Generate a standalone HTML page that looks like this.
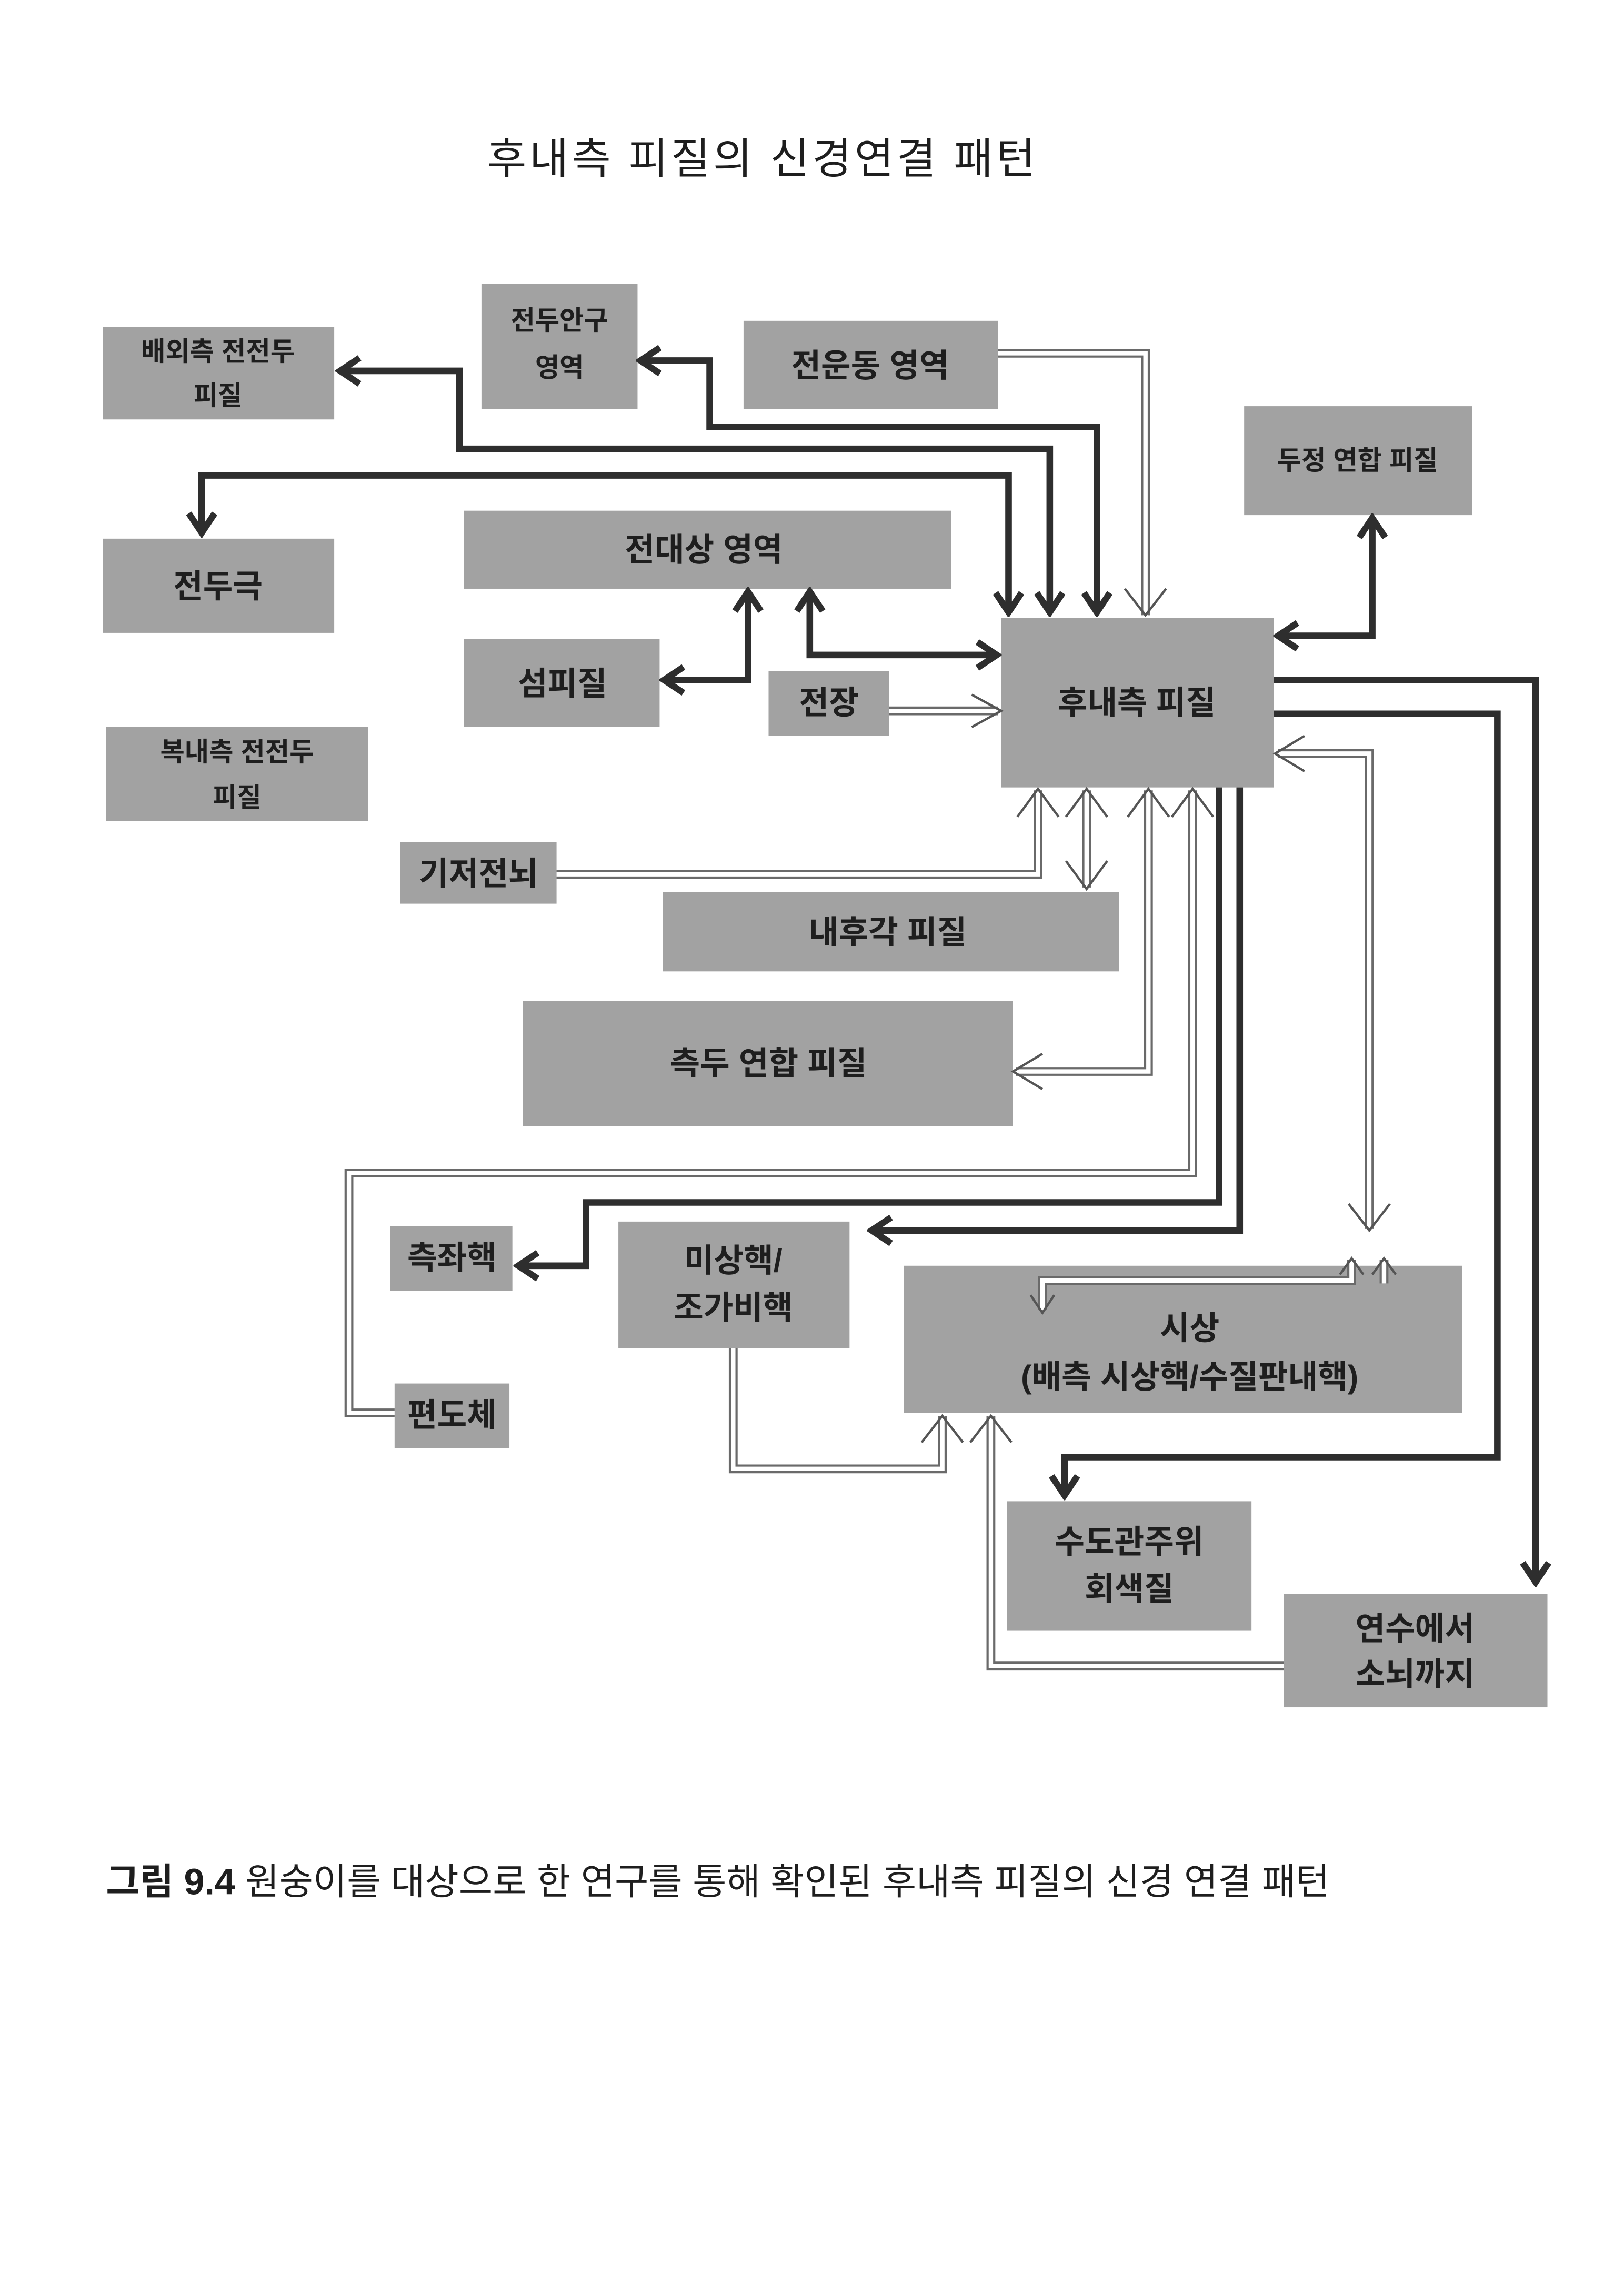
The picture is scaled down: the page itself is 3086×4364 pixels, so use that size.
<!DOCTYPE html>
<html><head><meta charset="utf-8">
<style>
html,body{margin:0;padding:0;background:#fff;}
svg{display:block;}
text{font-family:"Liberation Sans","Noto Sans CJK KR","NanumGothic",sans-serif;fill:#1e1e1e;}
.b{fill:#a2a2a2;}
.t{font-size:22px;font-weight:bold;text-anchor:middle;}
.s{font-size:18px;font-weight:bold;text-anchor:middle;}
.k{fill:none;stroke:#2e2e2e;stroke-width:4.5;stroke-linejoin:miter;}
.ho{fill:none;stroke:#6a6a6a;stroke-width:6;}
.hi{fill:none;stroke:#fff;stroke-width:3;}
</style></head>
<body>
<svg width="3086" height="4364" viewBox="0 0 1103 1560" preserveAspectRatio="none" xmlns="http://www.w3.org/2000/svg">
<defs>
<marker id="a" viewBox="0 0 20 20" refX="17" refY="10" markerWidth="22" markerHeight="22" orient="auto-start-reverse" markerUnits="userSpaceOnUse">
<path d="M5,2 L17,10 L5,18" fill="none" stroke="#2e2e2e" stroke-width="4"/></marker>
</defs>
<rect width="1103" height="1560" fill="#fff"/>
<text x="518" y="118" style="font-size:29px;text-anchor:middle;letter-spacing:2px;">후내측 피질의 신경연결 패턴</text>

<rect class="b" x="70" y="222" width="157" height="63"/>
<text class="s" x="148" y="245">배외측 전전두</text><text class="s" x="148" y="275">피질</text>
<rect class="b" x="327" y="193" width="106" height="85"/>
<text class="s" x="380" y="224">전두안구</text><text class="s" x="380" y="256">영역</text>
<rect class="b" x="505" y="218" width="173" height="60"/>
<text class="t" x="591" y="256">전운동 영역</text>
<rect class="b" x="845" y="276" width="155" height="74"/>
<text class="s" x="922" y="319">두정 연합 피질</text>
<rect class="b" x="70" y="366" width="157" height="64"/>
<text class="t" x="148" y="406">전두극</text>
<rect class="b" x="315" y="347" width="331" height="53"/>
<text class="t" x="478" y="381">전대상 영역</text>
<rect class="b" x="315" y="434" width="133" height="60"/>
<text class="t" x="382" y="472">섬피질</text>
<rect class="b" x="522" y="456" width="82" height="44"/>
<text class="t" x="563" y="485">전장</text>
<rect class="b" x="680" y="420" width="185" height="115"/>
<text class="t" x="772" y="485">후내측 피질</text>
<rect class="b" x="72" y="494" width="178" height="64"/>
<text class="s" x="161" y="517">복내측 전전두</text><text class="s" x="161" y="548">피질</text>
<rect class="b" x="272" y="572" width="106" height="42"/>
<text class="t" x="325" y="601">기저전뇌</text>
<rect class="b" x="450" y="606" width="310" height="54"/>
<text class="t" x="603" y="641">내후각 피질</text>
<rect class="b" x="355" y="680" width="333" height="85"/>
<text class="t" x="522" y="730">측두 연합 피질</text>
<rect class="b" x="265" y="833" width="83" height="44"/>
<text class="t" x="307" y="862">측좌핵</text>
<rect class="b" x="420" y="830" width="157" height="86"/>
<text class="t" x="498" y="864">미상핵/</text><text class="t" x="498" y="896">조가비핵</text>
<rect class="b" x="614" y="860" width="379" height="100"/>
<text class="t" x="808" y="910">시상</text><text class="t" x="808" y="943">(배측 시상핵/수질판내핵)</text>
<rect class="b" x="268" y="940" width="78" height="44"/>
<text class="t" x="307" y="969">편도체</text>
<rect class="b" x="684" y="1020" width="166" height="88"/>
<text class="t" x="767" y="1055">수도관주위</text><text class="t" x="767" y="1087">회색질</text>
<rect class="b" x="872" y="1083" width="179" height="77"/>
<text class="t" x="961" y="1114">연수에서</text><text class="t" x="961" y="1145">소뇌까지</text>

<path class="k" d="M231,252 H312 V305 H713 V416" marker-start="url(#a)" marker-end="url(#a)"/>
<path class="k" d="M435,245 H482 V290 H745 V416" marker-start="url(#a)" marker-end="url(#a)"/>
<path class="k" d="M137,362 V323 H685 V416" marker-start="url(#a)" marker-end="url(#a)"/>
<path class="k" d="M868,432 H932 V352" marker-start="url(#a)" marker-end="url(#a)"/>
<path class="k" d="M451,462 H508 V402" marker-start="url(#a)" marker-end="url(#a)"/>
<path class="k" d="M550,402 V445 H677" marker-start="url(#a)" marker-end="url(#a)"/>
<path class="k" d="M865,462 H1043 V1075" marker-end="url(#a)"/>
<path class="k" d="M865,485 H1017 V990 H723 V1016" marker-end="url(#a)"/>
<path class="k" d="M842,535 V836 H592" marker-end="url(#a)"/>
<path class="k" d="M828,535 V817 H398 V860 H352" marker-end="url(#a)"/>

<g>
<path class="ho" d="M678,240 H778 V418"/><path class="hi" d="M678,240 H778 V418"/>
<path class="ho" d="M604,483 H678"/><path class="hi" d="M604,483 H678"/>
<path class="ho" d="M868,512 H930 V835"/><path class="hi" d="M868,512 H930 V835"/>
<path class="ho" d="M378,594 H705 V537"/><path class="hi" d="M378,594 H705 V537"/>
<path class="ho" d="M738,537 V603"/><path class="hi" d="M738,537 V603"/>
<path class="ho" d="M690,728 H780 V537"/><path class="hi" d="M690,728 H780 V537"/>
<path class="ho" d="M268,960 H237 V797 H810 V537"/><path class="hi" d="M268,960 H237 V797 H810 V537"/>
<path class="ho" d="M918,856 V870 H708 V890"/><path class="hi" d="M918,856 V870 H708 V890"/>
<path class="ho" d="M940,856 V872"/><path class="hi" d="M940,856 V872"/>
<path class="ho" d="M498,916 V998 H640 V962"/><path class="hi" d="M498,916 V998 H640 V962"/>
<path class="ho" d="M872,1132 H673 V962"/><path class="hi" d="M872,1132 H673 V962"/>
</g>
<g fill="none" stroke="#555" stroke-width="1.6">
<path d="M764,400 L778,418 L792,400"/>
<path d="M660,472 L680,483 L660,494"/>
<path d="M886,500 L866,512 L886,524"/>
<path d="M916,818 L930,836 L944,818"/>
<path d="M691,555 L705,536 L719,555"/>
<path d="M724,555 L738,536 L752,555"/>
<path d="M724,585 L738,604 L752,585"/>
<path d="M708,716 L688,728 L708,740"/>
<path d="M766,555 L780,536 L794,555"/>
<path d="M796,555 L810,536 L824,555"/>
<path d="M910,866 L918,855 L926,866"/>
<path d="M932,866 L940,855 L948,866"/>
<path d="M700,880 L708,892 L716,880"/>
<path d="M626,980 L640,962 L654,980"/>
<path d="M659,980 L673,962 L687,980"/>
</g>

<text x="72" y="1287" style="font-size:25px;"><tspan font-weight="bold">그림 9.4</tspan> 원숭이를 대상으로 한 연구를 통해 확인된 후내측 피질의 신경 연결 패턴</text>
</svg>
</body></html>
